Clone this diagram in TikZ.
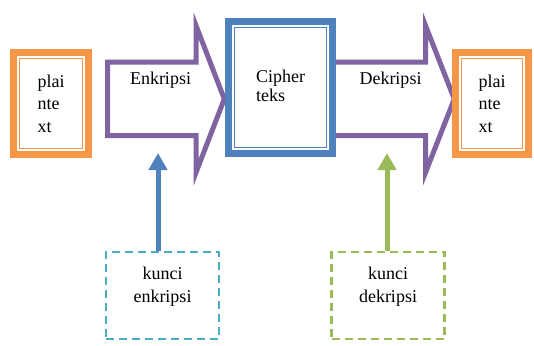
\documentclass[tikz,border=0pt]{standalone}
\usepackage{fontspec}
\setmainfont{Liberation Serif}
\newfontfamily\diagfont{Liberation Serif}
\usetikzlibrary{arrows.meta}
\definecolor{PTorange}{HTML}{F79646}
\definecolor{ARpurple}{HTML}{8064A2}
\definecolor{CTblue}{HTML}{4F81BD}
\definecolor{KEblue}{HTML}{4BACC6}
\definecolor{KDgreen}{HTML}{9BBB59}
\tikzset{dblbox/.style={path picture={\draw[#1,line width=1.3pt]
  ([shift={(6pt,6pt)}]path picture bounding box.south west) rectangle
  ([shift={(-6pt,-6pt)}]path picture bounding box.north east);}}}
\tikzset{PTnode/.style={draw=PTorange,line width=7pt,fill=white,outer sep=0pt,
  minimum width=75pt,minimum height=102pt,align=left,dblbox=PTorange}}
\tikzset{CTnode/.style={draw=CTblue,line width=7pt,fill=white,outer sep=0pt,
  minimum width=104pt,minimum height=132pt,align=left,dblbox=CTblue}}
\tikzset{KEYnode/.style={draw=#1,line width=2.2pt,dash pattern=on 8pt off 5pt,
  fill=white,minimum width=113pt,minimum height=87pt}}
\tikzset{BIGarrow/.style={draw=ARpurple,line width=5pt,fill=white}}
\tikzset{KEYarrow/.style={-{Triangle[width=18pt,length=17pt]},line width=5pt}}

\begin{document}
\begin{tikzpicture}[x=1pt,y=-1pt,font=\diagfont\fontsize{18}{22.5}\selectfont]
	\useasboundingbox (0,0) rectangle (534,345);
	%
	\draw[BIGarrow] (107.5,62) -- (196,62) -- (196,25.5) -- (224.3,99)
	  -- (196,172.5) -- (196,135.5) -- (107.5,135.5) -- cycle;
	\draw[BIGarrow] (332.5,62) -- (425.5,62) -- (425.5,25.5) -- (454.3,99)
	  -- (425.5,172.5) -- (425.5,135.5) -- (332.5,135.5) -- cycle;
	\node[anchor=base] (enk) at (160.5,84) {Enkripsi};
	\node[anchor=base] (dek) at (390.5,84) {Dekripsi};
	%
	\node[PTnode] (pt1) at (51,103.5) {plai\\nte\\xt};
	\node[CTnode] (ct) at (280.5,87.5) {\raisebox{4pt}{\shortstack[l]{Cipher\\teks}}};
	\node[PTnode,minimum width=73pt] (pt2) at (492,103.5) {plai\\nte\\xt};
	%
	\node[KEYnode=KEblue,label={[anchor=north,yshift=-13pt,align=center]north:kunci\\enkripsi}] (ke) at (162.5,295.5) {};
	\node[KEYnode=KDgreen,label={[anchor=north,yshift=-13pt,align=center]north:kunci\\dekripsi}] (kd) at (388,295.5) {};
	\coordinate (ket) at (158,153);
	\coordinate (kdt) at (387,153);
	%
	\path[KEYarrow]
	(ket |- ke.north) edge[CTblue] (ket)
	(kdt |- kd.north) edge[KDgreen] (kdt);
\end{tikzpicture}
\end{document}
